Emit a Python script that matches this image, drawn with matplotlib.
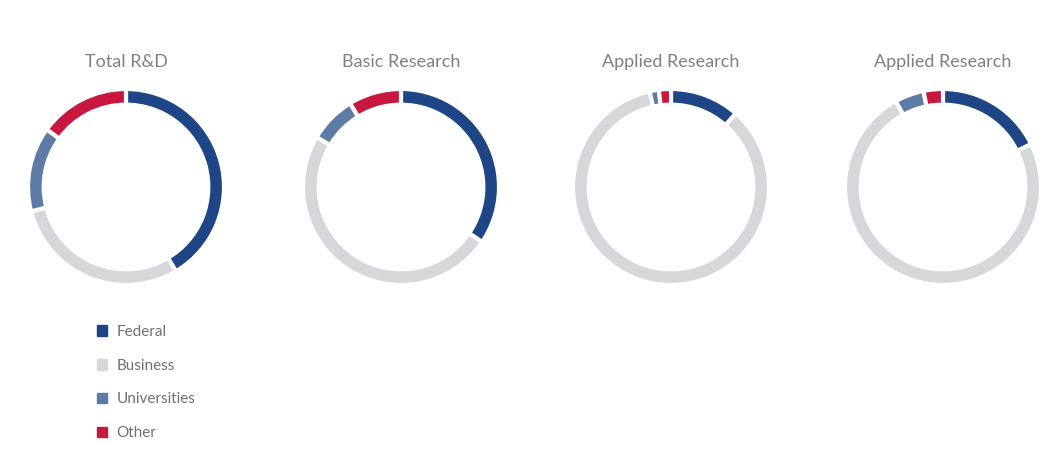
import matplotlib
matplotlib.use('Agg')
import matplotlib.pyplot as plt
import matplotlib.patches as mpatches

titles = ['Total R&D', 'Basic Research', 'Applied Research', 'Applied Research']
sources = ['Federal', 'Business', 'Universities', 'Other']
shares = [
    [41.5, 29.5, 14.0, 15.0],
    [34.5, 49.0, 7.8, 8.7],
    [11.5, 85.0, 1.5, 2.0],
    [17.8, 74.2, 4.8, 3.2],
]
colors = ['#1e4585', '#d5d7db', '#5e7ba5', '#c8183f']

centers_x = [126, 401, 671, 943]
center_y = 187
radius_px = 98


def main():
    plt.rcParams['font.family'] = ['Lato', 'DejaVu Sans']
    W, H = 1050, 450
    fig = plt.figure(figsize=(W / 100, H / 100), dpi=100)

    for cx, title, vals in zip(centers_x, titles, shares):
        ax = fig.add_axes([(cx - radius_px) / W, (H - center_y - radius_px) / H,
                           2 * radius_px / W, 2 * radius_px / H])
        ax.pie(vals, colors=colors, startangle=90, counterclock=False,
               radius=1.0,
               wedgeprops=dict(width=0.16, edgecolor='white', linewidth=3))
        ax.set_xlim(-1, 1)
        ax.set_ylim(-1, 1)
        ax.set_aspect('equal')
        ax.axis('off')
        fig.text(cx / W, 1 - 62 / H, title, ha='center', va='center',
                 fontsize=13, color='#808080')

    handles = [mpatches.Patch(color=c, label=s) for c, s in zip(colors, sources)]
    leg = fig.legend(handles=handles, loc='upper left',
                     bbox_to_anchor=(83 / W, 1 - 311 / H), frameon=False,
                     fontsize=11, labelspacing=1.3, handlelength=0.7,
                     handleheight=0.7, handletextpad=0.6)
    for t in leg.get_texts():
        t.set_color('#707070')

    fig.savefig('out.png', dpi=100, facecolor='white')


if __name__ == '__main__':
    main()
